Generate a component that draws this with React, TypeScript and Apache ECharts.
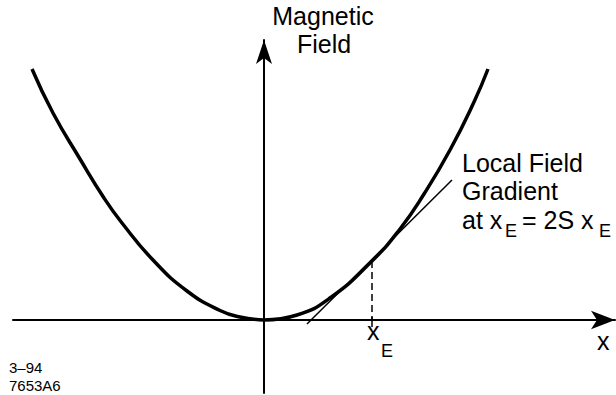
import React, { useEffect, useRef } from "react";
import * as echarts from "echarts";

// Field profile B(x) around the symmetry point, in drawing units (x right, B up)
const curveLeft: [number, number][] = [
  [-232, 251], [-211, 207], [-184, 161], [-160, 122], [-142, 97],
  [-111, 60], [-77, 29], [-44, 9.5], [-24, 3], [0, 0],
];
const curveRight: [number, number][] = [
  [0, 0], [33, 5], [66, 22], [108, 59], [136, 91], [160, 126],
  [186, 170], [210, 218], [224, 251],
];
// working point x_E and its field value
const xE = 108;
const bE = 59;
// tangent (local gradient) segment end points
const tangentLine: [number, number][] = [[43, -4], [188, 140]];

const FONT = "'Liberation Sans', Arial, Helvetica, sans-serif";

function txt(text: string, x: number, baseline: number, size: number, align: string = "left") {
  return {
    type: "text",
    silent: true,
    style: {
      text,
      x,
      y: baseline - 0.35 * size,
      fill: "#000",
      font: `${size}px ${FONT}`,
      textAlign: align,
      verticalAlign: "middle",
    },
  };
}

export default function App() {
  const ref = useRef<HTMLDivElement>(null);

  useEffect(() => {
    document.body.style.margin = "0";
    const chart = echarts.init(ref.current!, null, { renderer: "svg" });
    const lineStyleBlack = (w: number) => ({ color: "#000", width: w });
    chart.setOption({
      animation: false,
      backgroundColor: "#fff",
      grid: { left: 13, right: 1, top: 40, bottom: 2 },
      xAxis: {
        type: "value",
        min: -251,
        max: 351,
        axisLine: {
          onZero: true,
          symbol: ["none", "arrow"],
          symbolSize: [14, 24],
          lineStyle: { color: "#000", width: 2 },
        },
        axisTick: { show: false },
        axisLabel: { show: false },
        splitLine: { show: false },
      },
      yAxis: {
        type: "value",
        min: -73,
        max: 280,
        axisLine: {
          onZero: true,
          symbol: ["none", "arrow"],
          symbolSize: [12, 24],
          lineStyle: { color: "#000", width: 2 },
        },
        axisTick: { show: false },
        axisLabel: { show: false },
        splitLine: { show: false },
      },
      series: [
        {
          type: "line",
          data: curveLeft,
          smooth: true,
          symbol: "none",
          lineStyle: lineStyleBlack(3.5),
        },
        {
          type: "line",
          data: curveRight,
          smooth: true,
          symbol: "none",
          lineStyle: lineStyleBlack(3.5),
        },
        {
          type: "line",
          data: tangentLine,
          symbol: "none",
          lineStyle: lineStyleBlack(1.5),
        },
        {
          type: "line",
          data: [[xE, bE], [xE, 0]],
          symbol: "none",
          lineStyle: { color: "#000", width: 1.5, type: [7, 4] },
        },
        {
          type: "line",
          data: [[xE, 3], [xE, -7]],
          symbol: "none",
          lineStyle: lineStyleBlack(1.5),
        },
      ],
      graphic: [
        txt("Magnetic", 323, 25, 25, "center"),
        txt("Field", 324, 53, 25, "center"),
        txt("Local Field", 462, 172, 25),
        txt("Gradient", 462, 200, 25),
        txt("at x", 462, 229, 25),
        txt("E", 505, 237, 18),
        txt("= 2S x", 522, 229, 25),
        txt("E", 599, 237, 18),
        txt("x", 367, 340, 25),
        txt("E", 381, 357, 18),
        txt("x", 597, 350, 25),
        txt("3–94", 9, 373, 15),
        txt("7653A6", 9, 391, 15),
      ],
    });
    return () => chart.dispose();
  }, []);

  return (
    <div
      ref={ref}
      style={{ position: "absolute", left: 0, top: 0, width: 616, height: 395 }}
    />
  );
}
